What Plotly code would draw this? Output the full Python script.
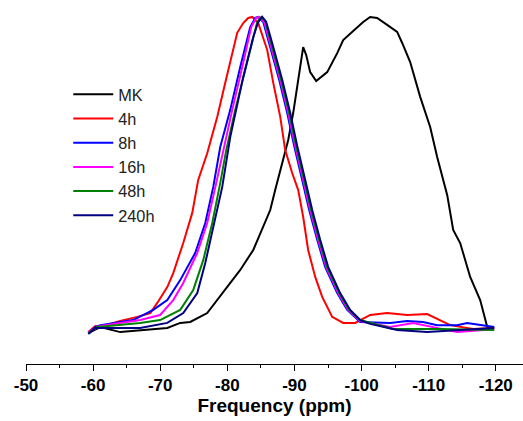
import plotly.graph_objects as go

# Chemical shift (ppm) and normalized intensity for each sample
mk_x = [-59.28, -61.07, -64.04, -68.07, -71.05, -72.98, -74.47, -77.0, -79.24, -80.43,
        -81.92, -83.86, -85.2, -86.39, -87.13, -87.88, -89.07, -89.81, -90.56, -91.15,
        -91.30, -91.75, -92.34, -93.24, -93.83, -94.88, -96.37, -97.26, -98.75, -100.24,
        -101.28, -102.32, -103.81, -105.30, -106.05, -107.24, -108.73, -110.22, -111.26,
        -112.76, -113.65, -114.69, -116.18, -117.67, -118.72, -119.17, -119.76]
mk_y = [0.003, 0.022, 0.006, 0.013, 0.019, 0.035, 0.038, 0.066, 0.129, 0.161,
        0.202, 0.265, 0.334, 0.391, 0.454, 0.517, 0.612, 0.697, 0.801, 0.886,
        0.905, 0.88, 0.826, 0.798, 0.808, 0.826, 0.886, 0.927, 0.956, 0.984,
        1.0, 0.997, 0.975, 0.953, 0.918, 0.858, 0.748, 0.653, 0.558,
        0.438, 0.328, 0.287, 0.18, 0.107, 0.022, 0.019, 0.022]

h4_x = [-59.28, -60.32, -61.07, -64.04, -66.58, -68.52, -69.56, -71.05, -71.94, -73.43,
        -74.77, -75.66, -77.0, -78.5, -79.68, -80.88, -81.47, -82.37, -83.11, -83.71,
        -84.6, -85.94, -86.84, -87.88, -88.62, -89.66, -90.56, -91.30, -92.04, -93.09,
        -94.13, -95.62, -97.26, -99.04, -101.28, -103.81, -106.79, -109.77, -111.71,
        -113.2, -116.62, -119.76]
h4_y = [0.006, 0.025, 0.022, 0.041, 0.054, 0.066, 0.098, 0.148, 0.192, 0.287,
        0.382, 0.486, 0.57, 0.685, 0.792, 0.896, 0.95, 0.981, 0.997, 1.0,
        0.981, 0.896, 0.792, 0.685, 0.58, 0.508, 0.454, 0.369, 0.265, 0.18,
        0.117, 0.054, 0.035, 0.035, 0.06, 0.066, 0.06, 0.063, 0.044,
        0.028, 0.016, 0.019]

h8_x = [-59.28, -60.32, -61.07, -65.98, -68.96, -71.05, -72.98, -75.22, -76.71, -77.9,
        -78.94, -80.43, -81.92, -83.41, -84.16, -84.6, -85.35, -86.39, -87.73, -88.92,
        -89.96, -91.15, -92.19, -93.39, -94.58, -96.37, -97.86, -99.79, -104.26, -106.79,
        -109.17, -111.26, -114.24, -115.73, -119.76]
h8_y = [0.003, 0.022, 0.028, 0.044, 0.076, 0.107, 0.17, 0.256, 0.35, 0.464,
        0.59, 0.707, 0.842, 0.968, 0.997, 1.0, 0.984, 0.905, 0.801, 0.697,
        0.593, 0.486, 0.391, 0.297, 0.211, 0.129, 0.076, 0.038, 0.035, 0.041,
        0.038, 0.028, 0.028, 0.035, 0.022]

h16_x = [-59.28, -61.07, -67.0, -69.98, -71.94, -73.43, -75.52, -77.0, -78.34, -79.39,
         -80.73, -82.22, -83.56, -84.3, -84.75, -85.5, -86.54, -87.88, -89.07, -90.11,
         -91.3, -92.34, -93.53, -94.73, -96.52, -98.0, -99.79, -104.26, -107.69, -110.67,
         -114.24, -118.13, -119.76]
h16_y = [0.006, 0.025, 0.044, 0.06, 0.107, 0.161, 0.256, 0.35, 0.476, 0.58,
         0.707, 0.842, 0.968, 0.997, 1.0, 0.984, 0.905, 0.801, 0.697, 0.593,
         0.486, 0.391, 0.297, 0.211, 0.129, 0.076, 0.041, 0.022, 0.035, 0.022,
         0.006, 0.013, 0.016]

h48_x = [-59.28, -60.62, -67.0, -69.98, -72.98, -74.92, -76.41, -77.75, -78.94, -79.83,
         -81.17, -82.66, -83.86, -84.45, -85.05, -85.65, -86.69, -88.03, -89.22, -90.26,
         -91.45, -92.49, -93.68, -94.88, -96.67, -98.15, -99.79, -104.71, -111.71, -119.76]
h48_y = [0.003, 0.022, 0.035, 0.044, 0.076, 0.139, 0.233, 0.35, 0.476, 0.58,
         0.707, 0.833, 0.943, 0.984, 1.0, 0.987, 0.905, 0.801, 0.697, 0.593,
         0.486, 0.391, 0.297, 0.211, 0.129, 0.076, 0.044, 0.016, 0.016, 0.013]

h240_x = [-59.28, -60.32, -67.0, -71.05, -73.43, -75.52, -76.71, -77.9, -79.24, -80.43,
          -82.37, -83.86, -84.6, -85.2, -85.79, -86.84, -88.18, -89.37, -90.41, -91.6,
          -92.64, -93.83, -95.03, -96.81, -98.3, -99.79, -101.28, -105.3, -109.77, -114.69,
          -119.76]
h240_y = [0.0, 0.019, 0.019, 0.035, 0.066, 0.129, 0.224, 0.338, 0.464, 0.621,
          0.811, 0.937, 0.984, 1.0, 0.984, 0.905, 0.801, 0.697, 0.593, 0.486,
          0.391, 0.297, 0.211, 0.129, 0.076, 0.044, 0.032, 0.013, 0.006, 0.013,
          0.019]

series_names = ["MK", "4h", "8h", "16h", "48h", "240h"]
series_x = [mk_x, h4_x, h8_x, h16_x, h48_x, h240_x]
series_y = [mk_y, h4_y, h8_y, h16_y, h48_y, h240_y]
series_colors = ["#000000", "#ff0000", "#0000ff", "#ff00ff", "#008000", "#000080"]

x_tick_vals = [-50, -60, -70, -80, -90, -100, -110, -120]
x_tick_text = ["-50", "-60", "-70", "-80", "-90", "-100", "-110", "-120"]

fig = go.Figure()
for name, xs, ys, c in zip(series_names, series_x, series_y, series_colors):
    fig.add_trace(go.Scatter(x=xs, y=ys, mode="lines", name=name,
                             line=dict(color=c, width=2)))

fig.update_layout(
    width=523, height=421,
    margin=dict(l=26, r=0, t=10, b=57),
    paper_bgcolor="white", plot_bgcolor="white",
    font=dict(family="Liberation Sans, Arial, sans-serif", color="black"),
    showlegend=True,
    legend=dict(x=0.085, y=0.81, xanchor="left", yanchor="top",
                bgcolor="rgba(0,0,0,0)", font=dict(size=16.3, color="#222222"),
                itemwidth=40, tracegroupgap=0),
    xaxis=dict(range=[-50, -124.05], tickmode="array", tickvals=x_tick_vals,
               ticktext=x_tick_text, showgrid=False, zeroline=False,
               showline=True, linecolor="black", linewidth=1,
               ticks="outside", ticklen=6, tickwidth=1, tickcolor="black",
               minor=dict(dtick=5, ticks="outside", ticklen=3, tickcolor="black", tickwidth=1),
               tickfont=dict(size=17, weight="bold"),
               title=dict(text="Frequency (ppm)", font=dict(size=19, weight="bold"), standoff=4)),
    yaxis=dict(range=[-0.0946, 1.022], visible=False, showgrid=False, zeroline=False),
)

fig.write_html("out.html", config={"displayModeBar": False},
               post_script="document.body.style.margin='0';")
